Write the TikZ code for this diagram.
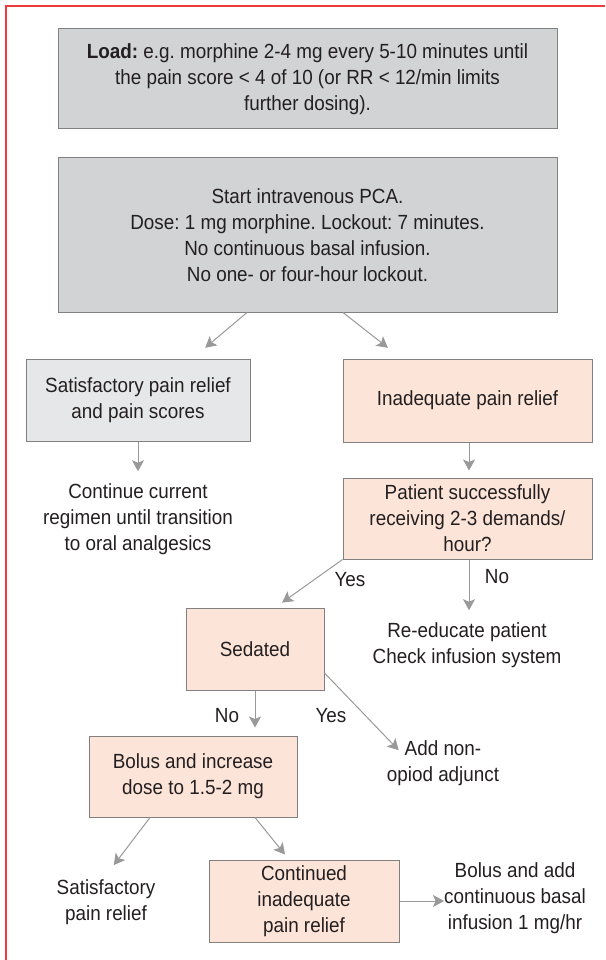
\documentclass[tikz,border=0pt]{standalone}
\usepackage{fontspec}
\setmainfont[FakeStretch=0.92]{Liberation Sans}
\usetikzlibrary{positioning,arrows.meta}
\definecolor{boxgray}{HTML}{D1D3D4}
\definecolor{palegray}{HTML}{E6E7E8}
\definecolor{peach}{HTML}{FCE4D8}
\definecolor{edgegray}{HTML}{808080}
\definecolor{arrowgray}{HTML}{999999}
\definecolor{framered}{HTML}{EE3B3B}
\definecolor{ink}{HTML}{231F20}
\frenchspacing

\begin{document}
\begin{tikzpicture}[x=1pt, y=-1pt, font=\fontsize{20.5}{26}\selectfont, text=ink]
        \tikzstyle{frame} = [rectangle, draw=edgegray, line width=1pt, align=center, inner sep=0pt]
        \tikzstyle{graybox} = [frame, fill=boxgray]
        \tikzstyle{pinkbox} = [frame, fill=peach]
        \tikzstyle{note} = [align=center, inner sep=0pt]
        \tikzstyle{line} = [draw=arrowgray, line width=1pt, -{Stealth[length=11pt, width=12pt, inset=2.5pt]}]
        \useasboundingbox (0,0) rectangle (605,960);
        \draw [framered, line width=1.5pt] (605,6) -- (6,6) -- (6,960);
        % top boxes
        \node [graybox, minimum width=499pt, minimum height=100pt] (load) at (307.5,79) {\textbf{Load:} e.g. morphine 2-4 mg every 5-10 minutes until\\the pain score < 4 of 10 (or RR < 12/min limits\\further dosing).};
        \node [graybox, minimum width=499pt, minimum height=154pt, below=28pt of load] (pca) {Start intravenous PCA.\\Dose: 1 mg morphine. Lockout: 7 minutes.\\No continuous basal infusion.\\No one- or four-hour lockout.};
        % branches
        \node [frame, fill=palegray, minimum width=224pt, minimum height=82pt] (sat) at (138,400) {Satisfactory pain relief\\and pain scores};
        \node [pinkbox, minimum width=249pt, minimum height=83pt] (inad) at (467.5,400.5) {Inadequate pain relief};
        \node [note] (cont) at (138,519) {Continue current\\regimen until transition\\to oral analgesics};
        \node [pinkbox, minimum width=249pt, minimum height=81pt, below=35pt of inad] (patient) {Patient successfully\\receiving 2-3 demands/\\hour?};
        \node [pinkbox, minimum width=138pt, minimum height=82pt] (sed) at (255,649) {Sedated};
        \node [note] (reedu) at (467,645) {Re-educate patient\\Check infusion system};
        \node [note] (addnon) at (443,763) {Add non-\\opiod adjunct};
        \node [pinkbox, minimum width=208pt, minimum height=81pt] (bolus) at (193,776.5) {Bolus and increase\\dose to 1.5-2 mg};
        \node [pinkbox, minimum width=190pt, minimum height=82pt] (contd) at (304,901) {Continued\\inadequate\\pain relief};
        \node [note] (satend) at (106,902) {Satisfactory\\pain relief};
        \node [note] (basal) at (515,898) {Bolus and add\\continuous basal\\infusion 1 mg/hr};
        % labels
        \node (yes1) at (350,580) {Yes};
        \node (no1) at (497,577) {No};
        \node (no2) at (227,716) {No};
        \node (yes2) at (331,716) {Yes};
        % connectors
        \path [line, shorten >=16.6pt] ([xshift=-60.5pt]pca.south) -- ([xshift=54.5pt]sat.north);
        \path [line, shorten >=17.3pt] ([xshift=35.5pt]pca.south) -- ([xshift=-66pt]inad.north);
        \path [line, shorten >=12pt] (sat.south) -- (cont.north);
        \path [line, shorten >=7pt] ([xshift=1.5pt]inad.south) -- ([xshift=1.5pt]patient.north);
        \path [line, shorten >=8.4pt] (patient.south west) -- ([xshift=20.2pt]sed.north);
        \path [line, shorten >=12pt] ([xshift=1.5pt]patient.south) -- ([xshift=1.5pt]patient.south |- reedu.north);
        \path [line, shorten >=8pt] (sed.south) -- (sed.south |- bolus.north);
        \path [line] ([yshift=-24pt]sed.east) -- ([xshift=12pt, yshift=-10pt]addnon.north west);
        \path [line, shorten >=17.8pt] ([xshift=-43pt]bolus.south) -- ([xshift=-3pt]satend.north);
        \path [line, shorten >=6.4pt] ([xshift=62pt]bolus.south) -- ([xshift=-15pt]contd.north);
        \path [line] (contd.east) -- (contd.east -| basal.west);
\end{tikzpicture}
\end{document}
